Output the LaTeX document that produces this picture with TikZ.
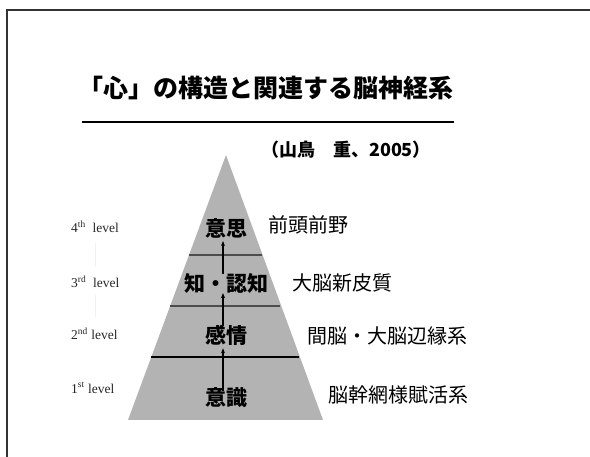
\documentclass[tikz,border=0pt]{standalone}
\usepackage{fontspec}
\setmainfont{Liberation Serif}
\newfontfamily\cjk{Noto Sans CJK JP}
\usetikzlibrary{arrows.meta}
\definecolor{pyrgray}{HTML}{B3B3B3}
\definecolor{framegray}{HTML}{333333}
\tikzset{
  lvl/.style={font=\fontsize{13.5}{15}\selectfont, text=black!85, inner sep=0pt},
  inner/.style={font=\cjk\bfseries\fontsize{21}{24}\selectfont, inner sep=1pt},
  brain/.style={font=\cjk\fontsize{20}{24}\selectfont, anchor=west, inner sep=0pt},
  uparrow/.style={-{Stealth[length=5pt,width=4pt]}, line width=1.3pt},
  divider/.style={line width=1.2pt}
}
\begin{document}
\begin{tikzpicture}[x=1pt,y=-1pt]
\useasboundingbox (0,0) rectangle (590,457);
% frame
\draw[framegray, line width=1.6pt] (7,457) -- (7,10) -- (590,10);
% title
\node[font=\cjk\bfseries\fontsize{25}{28}\selectfont, inner sep=0pt] (title) at (266,88) {「心」の構造と関連する脳神経系};
\draw[line width=2.5pt] (82,122) -- (454,122);
\node[font=\cjk\bfseries\fontsize{18}{20}\selectfont, inner sep=0pt] (cite) at (346,150) {（山鳥　重、2005）};
% pyramid
\coordinate (apex) at (226,155);
\coordinate (bl) at (128,420);
\coordinate (br) at (323,420);
\fill[pyrgray] (apex) -- (br) -- (bl) -- cycle;
\draw[divider, black!70] (189,255) -- (262,255);
\draw[divider, black!70] (170,306) -- (280,306);
\draw[divider, black] (151,357) -- (299,357);
% inner labels
\node[inner] (l4) at (226,228) {意思};
\node[inner] (l3) at (226,283) {知・認知};
\node[inner] (l2) at (226,335) {感情};
\node[inner] (l1) at (226,398) {意識};
\draw[uparrow] ([xshift=-3pt,yshift=-4pt]l1.north) -- ([xshift=-3pt,yshift=-2pt]l2.south);
\draw[uparrow] ([xshift=-3pt,yshift=-2pt]l2.north) -- ([xshift=-3pt,yshift=1pt]l3.south);
\draw[uparrow] ([xshift=-3pt,yshift=-2pt]l3.north) -- ([xshift=-3pt,yshift=-2pt]l4.south);
% brain regions
\node[brain] (r4) at (268,225) {前頭前野};
\node[brain] (r3) at (292,283) {大脳新皮質};
\node[brain] (r2) at (307,336) {間脳・大脳辺縁系};
\node[brain] (r1) at (328,395) {脳幹網様賦活系};
% level labels
\node[lvl, anchor=west] (v4) at (71,227) {4\textsuperscript{th}\ \ level};
\node[lvl, anchor=west] (v3) at (71,282) {3\textsuperscript{rd}\ \ level};
\node[lvl, anchor=west] (v2) at (71,334) {2\textsuperscript{nd} level};
\node[lvl, anchor=west] (v1) at (71,388) {1\textsuperscript{st} level};
\draw[black!6, line width=0.6pt] (95,243) -- (95,267);
\draw[black!6, line width=0.6pt] (95,295) -- (95,317);
\end{tikzpicture}
\end{document}
